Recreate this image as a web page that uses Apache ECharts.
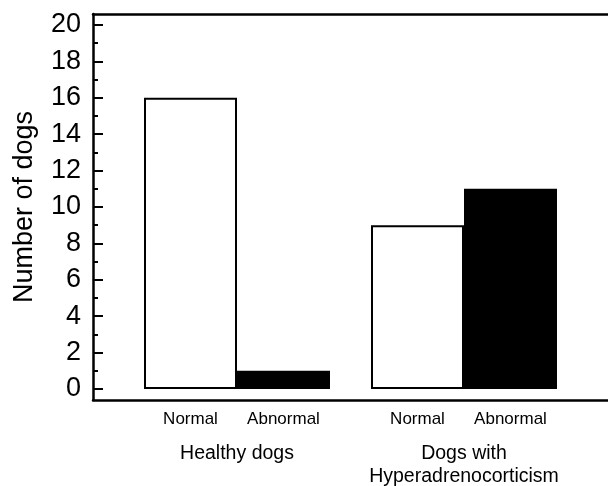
<!DOCTYPE html>
<html><head><meta charset="utf-8">
<script src="https://cdn.jsdelivr.net/npm/echarts@6/dist/echarts.min.js"></script>
<style>html,body{margin:0;padding:0;background:#fff}#c{width:608px;height:486px}</style>
</head><body><div id="c"></div>
<script>
const groups = ['Healthy dogs', 'Dogs with\nHyperadrenocorticism'];
const seriesNames = ['Normal', 'Abnormal'];
const normalValues = [16, 9];
const abnormalValues = [1, 11];
const yMin = 0, yMax = 20, yStep = 2;

const chart = echarts.init(document.getElementById('c'), null, {renderer: 'canvas'});
const font = 'Liberation Sans, Arial, sans-serif';
const barLabel = {show: true, position: 'bottom', distance: 22, formatter: '{a}', color: '#000', fontSize: 17, fontFamily: font};
const frameLine = {show: true, lineStyle: {color: '#000', width: 2.5}};
chart.setOption({
  animation: false,
  backgroundColor: '#fff',
  grid: [
    {left: 93, right: -3, top: 14, bottom: 86, containLabel: false, outerBoundsMode: 'none'},
    {left: 123.5, right: 30.5, top: 25, bottom: 97, containLabel: false, outerBoundsMode: 'none'}
  ],
  xAxis: [
    {type: 'value', gridIndex: 0, position: 'bottom', min: 0, max: 1,
     axisLine: frameLine, axisTick: {show: false}, axisLabel: {show: false}, splitLine: {show: false}},
    {type: 'value', gridIndex: 0, position: 'top', min: 0, max: 1,
     axisLine: frameLine, axisTick: {show: false}, axisLabel: {show: false}, splitLine: {show: false}},
    {type: 'category', gridIndex: 1, data: groups,
     axisLine: {show: false}, axisTick: {show: false},
     axisLabel: {interval: 0, margin: 53, color: '#000', fontSize: 19.5, fontFamily: font, lineHeight: 23, verticalAlign: 'top'}}
  ],
  yAxis: [
    {type: 'value', gridIndex: 0, min: 0, max: 1,
     axisLine: frameLine, axisTick: {show: false}, axisLabel: {show: false}, splitLine: {show: false}},
    {type: 'value', gridIndex: 1, min: yMin, max: yMax, interval: yStep, offset: 30.5,
     name: 'Number of dogs', nameLocation: 'middle', nameGap: 55, nameRotate: 90,
     nameTextStyle: {color: '#000', fontSize: 27, fontFamily: font},
     axisLine: {show: false},
     axisTick: {show: true, inside: true, length: 10, lineStyle: {color: '#000', width: 2}},
     minorTick: {show: true, splitNumber: 2, length: 5, lineStyle: {color: '#000', width: 2}},
     axisLabel: {margin: 12, color: '#000', fontSize: 27, fontFamily: font},
     splitLine: {show: false}}
  ],
  series: [
    {name: seriesNames[0], type: 'bar', xAxisIndex: 2, yAxisIndex: 1, data: normalValues,
     barWidth: 93, barGap: '0%',
     itemStyle: {color: '#fff', borderColor: '#000', borderWidth: 2}, label: barLabel},
    {name: seriesNames[1], type: 'bar', xAxisIndex: 2, yAxisIndex: 1, data: abnormalValues,
     barWidth: 93, barGap: '0%',
     itemStyle: {color: '#000', borderColor: '#000', borderWidth: 2}, label: barLabel}
  ]
});
</script></body></html>
